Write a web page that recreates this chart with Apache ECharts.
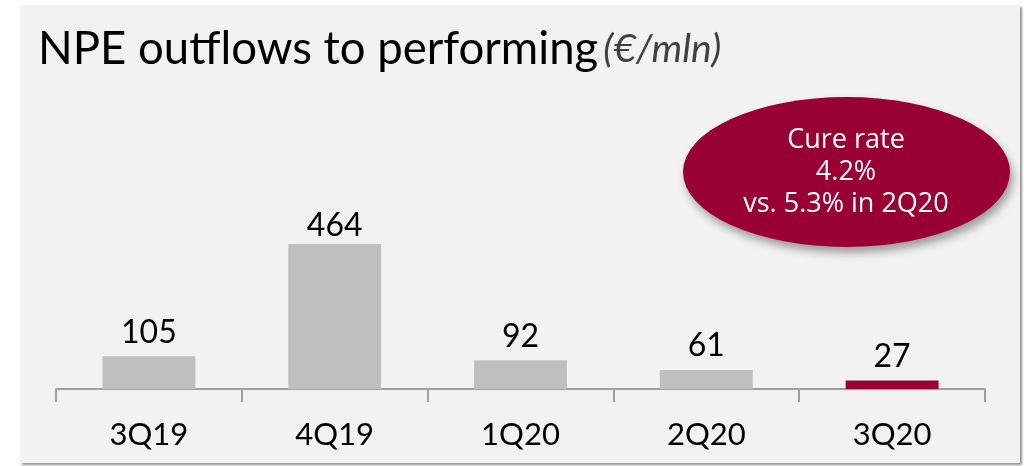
<!DOCTYPE html>
<html><head><meta charset="utf-8">
<script src="https://cdn.jsdelivr.net/npm/echarts@6/dist/echarts.min.js"></script>
<style>html,body{margin:0;padding:0;background:#fff}#c{width:1024px;height:466px}</style>
</head><body><div id="c"></div>
<script>
const categories = ['3Q19', '4Q19', '1Q20', '2Q20', '3Q20'];
const values = [105, 464, 92, 61, 27];
const barColors = ['#bfbfbf', '#bfbfbf', '#bfbfbf', '#bfbfbf', '#990033'];
const titleMain = 'NPE outflows to performing';
const titleUnit = '(€/mln)';
const calloutLines = ['Cure rate', '4.2%', 'vs. 5.3% in 2Q20'];

const chart = echarts.init(document.getElementById('c'));
chart.setOption({
  backgroundColor: '#ffffff',
  animation: false,
  grid: { left: 56, right: 39, top: 201.5, bottom: 77 },
  xAxis: {
    type: 'category', data: categories,
    axisLine: { lineStyle: { color: '#a0a0a0', width: 2 } },
    axisTick: { show: true, length: 13, lineStyle: { color: '#a0a0a0', width: 2 } },
    axisLabel: { color: '#000', fontSize: 31, fontFamily: 'Lato', margin: 30 }
  },
  yAxis: { type: 'value', min: 0, max: 600, show: false, splitLine: { show: false } },
  series: [{
    type: 'bar', barWidth: '50%',
    data: values.map((v, i) => ({ value: v, itemStyle: { color: barColors[i] },
      label: { distance: v > 400 ? 2 : 8 } })),
    label: { show: true, position: 'top', color: '#000', fontSize: 32, fontFamily: 'Lato' }
  }],
  graphic: [
    { type: 'rect', z: -10, shape: { x: 20, y: 5, width: 1000, height: 458 },
      style: { fill: '#f2f2f2', shadowColor: 'rgba(120,120,120,0.8)', shadowOffsetX: 2, shadowOffsetY: 2, shadowBlur: 2 } },
    { type: 'text', z: 10, left: 38, top: 26,
      style: { rich: {
        a: { fontSize: 45.5, fontFamily: 'Lato', fill: '#000' },
        s: { fontSize: 20, fontFamily: 'Lato' },
        b: { fontSize: 39, fontFamily: 'Lato', fontStyle: 'italic', fill: '#404040' } },
        text: '{a|' + titleMain + '}{s| }{b|' + titleUnit + '}' } },
    { type: 'circle', z: 50, x: 846.5, y: 172, scaleY: 75 / 163.5,
      shape: { cx: 0, cy: 0, r: 163.5 },
      style: { fill: '#990033', shadowColor: 'rgba(0,0,0,0.35)', shadowOffsetX: 3, shadowOffsetY: 6, shadowBlur: 8 } },
    { type: 'text', z: 60, x: 846, y: 172,
      style: { text: calloutLines.join('\n'), fill: '#fff', fontSize: 27, fontFamily: 'Open Sans',
        lineHeight: 32, align: 'center', verticalAlign: 'middle' } }
  ]
});
</script></body></html>
